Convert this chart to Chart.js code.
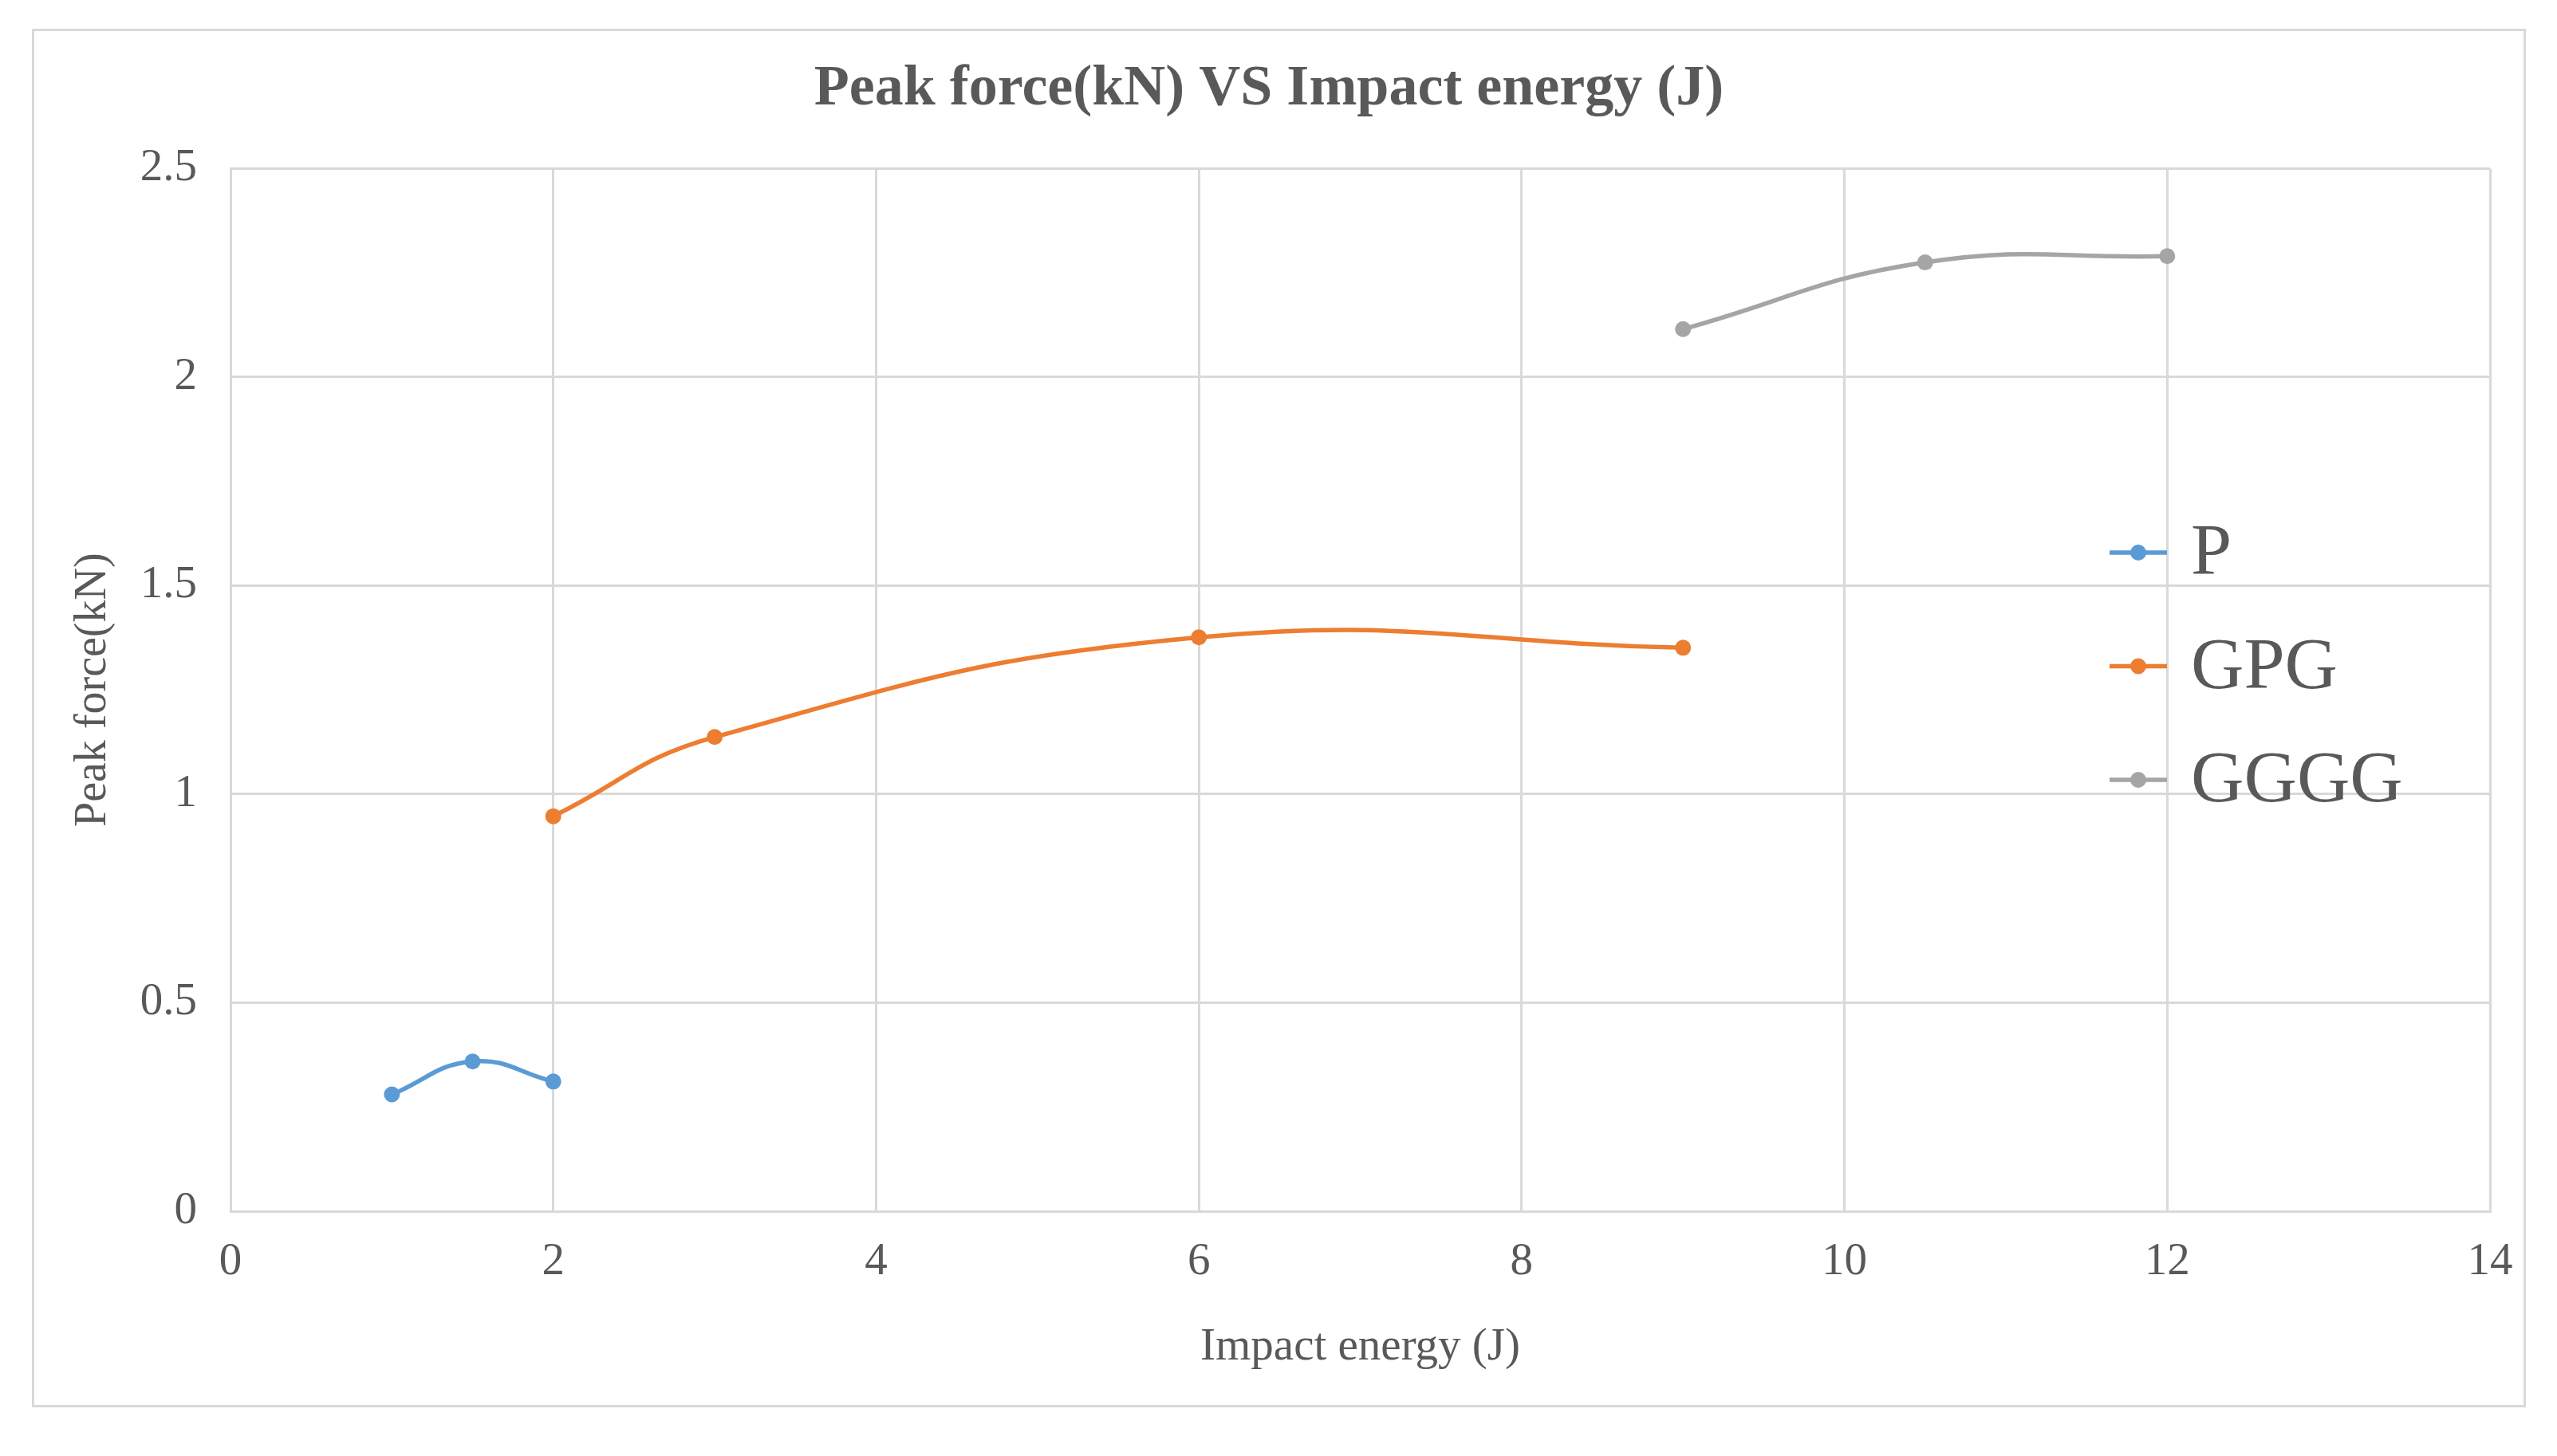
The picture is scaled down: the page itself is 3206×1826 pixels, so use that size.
<!DOCTYPE html>
<html lang="en">
<head>
    <meta charset="UTF-8">
    <title>Peak force(kN) VS Impact energy (J)</title>
    <script src="https://cdn.jsdelivr.net/npm/chart.js"></script>
    <style>
        body { margin: 0; background: #fff; }
        #frame {
            position: absolute; left: 40px; top: 36px; width: 3127px; height: 1729px;
            border: 3px solid #d9d9d9; box-sizing: border-box;
        }
        #peakChart { position: absolute; left: 0; top: 0; }
    </style>
</head>
<body>
    <div id="frame"></div>
    <canvas id="peakChart" width="3206" height="1826"></canvas>

    <script>
        // Werte
        var seriesNames = ['P', 'GPG', 'GGGG'];
        var energyP = [1, 1.5, 2];
        var forceP = [0.28, 0.359, 0.311];
        var energyGPG = [2, 3, 6, 9];
        var forceGPG = [0.947, 1.137, 1.376, 1.351];
        var energyGGGG = [9, 10.5, 12];
        var forceGGGG = [2.115, 2.275, 2.29];
        var colors = ['#5B9BD5', '#ED7D31', '#A5A5A5'];

        var textColor = '#595959';
        var serif = "'Times New Roman', 'Liberation Serif', serif";

        function toPoints(xs, ys) {
            return xs.map(function (x, i) { return { x: x, y: ys[i] }; });
        }

        function makeDataset(name, xs, ys, color) {
            return {
                label: name,
                data: toPoints(xs, ys),
                borderColor: color,
                backgroundColor: color,
                pointBackgroundColor: color,
                pointBorderColor: color,
                pointRadius: 10,
                pointBorderWidth: 0,
                borderWidth: 5.5,
                fill: false,
                tension: 0.45
            };
        }

        // Legende innerhalb der Zeichenfläche (wie in Excel)
        var insideLegend = {
            id: 'insideLegend',
            afterDraw: function (chart, args, opts) {
                var ctx = chart.ctx;
                ctx.save();
                ctx.font = opts.fontSize + 'px ' + serif;
                ctx.textBaseline = 'middle';
                ctx.textAlign = 'left';
                chart.data.datasets.forEach(function (ds, i) {
                    var y = opts.y + i * opts.spacing;
                    ctx.strokeStyle = ds.borderColor;
                    ctx.lineWidth = ds.borderWidth;
                    ctx.beginPath();
                    ctx.moveTo(opts.x, y);
                    ctx.lineTo(opts.x + opts.lineLength, y);
                    ctx.stroke();
                    ctx.fillStyle = ds.borderColor;
                    ctx.beginPath();
                    ctx.arc(opts.x + opts.lineLength / 2, y, ds.pointRadius, 0, Math.PI * 2);
                    ctx.fill();
                    ctx.fillStyle = textColor;
                    ctx.fillText(ds.label, opts.x + opts.lineLength + opts.gap, y + 3);
                });
                ctx.restore();
            }
        };

        var config = {
            type: 'line',
            data: {
                datasets: [
                    makeDataset(seriesNames[0], energyP, forceP, colors[0]),
                    makeDataset(seriesNames[1], energyGPG, forceGPG, colors[1]),
                    makeDataset(seriesNames[2], energyGGGG, forceGGGG, colors[2])
                ]
            },
            options: {
                responsive: false,
                devicePixelRatio: 1,
                animation: false,
                layout: { padding: { left: 60, right: 84, top: 20, bottom: 87 } },
                plugins: {
                    legend: { display: false },
                    tooltip: { enabled: false },
                    title: {
                        display: true,
                        text: 'Peak force(kN) VS Impact energy (J)',
                        color: textColor,
                        font: { family: serif, size: 72, weight: 'bold', lineHeight: 1.2 },
                        padding: { top: 49, bottom: 56 }
                    },
                    insideLegend: { x: 2645, y: 693, spacing: 142.5, lineLength: 72, gap: 30, fontSize: 92 }
                },
                scales: {
                    x: {
                        type: 'linear',
                        min: 0,
                        max: 14,
                        afterFit: function (s) { s.height = 220; },
                        ticks: {
                            stepSize: 2,
                            padding: 30,
                            color: textColor,
                            font: { family: serif, size: 57 }
                        },
                        grid: { color: '#d9d9d9', lineWidth: 3, drawTicks: false },
                        border: { color: '#d9d9d9', width: 3 },
                        title: {
                            display: true,
                            text: 'Impact energy (J)',
                            color: textColor,
                            font: { family: serif, size: 57, lineHeight: 1.2 },
                            padding: { top: 0, bottom: 15 }
                        }
                    },
                    y: {
                        min: 0,
                        max: 2.5,
                        afterFit: function (s) { s.width = 229; },
                        ticks: {
                            stepSize: 0.5,
                            padding: 42,
                            color: textColor,
                            font: { family: serif, size: 57 },
                            callback: function (v) { return String(v); } // "2" statt "2.0"
                        },
                        grid: { color: '#d9d9d9', lineWidth: 3, drawTicks: false },
                        border: { color: '#d9d9d9', width: 3 },
                        title: {
                            display: true,
                            text: 'Peak force(kN)',
                            color: textColor,
                            font: { family: serif, size: 56, lineHeight: 1.2 },
                            padding: { top: 24, bottom: 0 }
                        }
                    }
                }
            },
            plugins: [insideLegend]
        };

        var peakChart = new Chart(document.getElementById('peakChart'), config);
    </script>
</body>
</html>
